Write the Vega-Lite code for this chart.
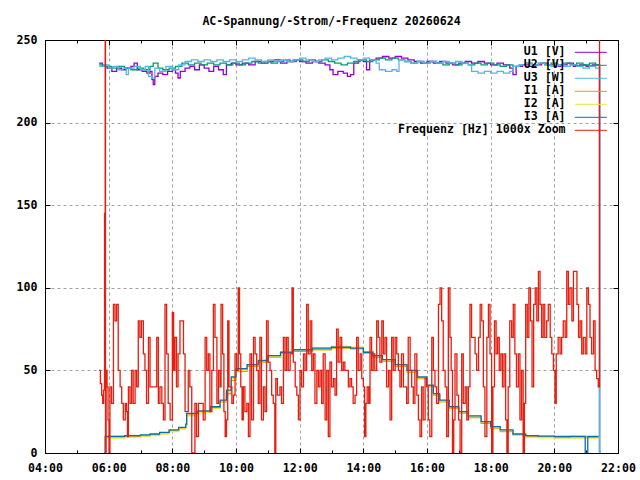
{
  "$schema": "https://vega.github.io/schema/vega-lite/v6.json",
  "width": 573,
  "height": 413,
  "autosize": "none",
  "padding": {"left": 45, "top": 40, "right": 22, "bottom": 27},
  "background": "white",
  "title": {
    "text": "AC-Spannung/-Strom/-Frequenz 20260624",
    "font": "DejaVu Sans Mono",
    "fontSize": 11.6,
    "fontWeight": "bold",
    "color": "black",
    "baseline": "alphabetic",
    "offset": -3,
    "anchor": "middle"
  },
  "config": {
    "view": {"stroke": "black", "strokeWidth": 1},
    "axis": {
      "domainColor": "black",
      "tickColor": "black",
      "labelFont": "DejaVu Sans Mono",
      "labelFontSize": 11.6,
      "labelFontWeight": "bold",
      "labelColor": "black",
      "gridColor": "#a0a0a0",
      "gridDash": [3, 3],
      "gridWidth": 1,
      "title": null
    }
  },
  "data": {
    "values": [
      {"s":"U1","t":5.70,"v":236},{"s":"U1","t":5.80,"v":234},{"s":"U1","t":5.95,"v":233},{"s":"U1","t":6.10,"v":231},{"s":"U1","t":6.25,"v":233},{"s":"U1","t":6.40,"v":232},{"s":"U1","t":6.55,"v":233},{"s":"U1","t":6.70,"v":234},{"s":"U1","t":6.80,"v":236},{"s":"U1","t":6.90,"v":232},{"s":"U1","t":7.05,"v":231},{"s":"U1","t":7.20,"v":230},{"s":"U1","t":7.30,"v":231},{"s":"U1","t":7.36,"v":226},{"s":"U1","t":7.40,"v":223},{"s":"U1","t":7.45,"v":228},{"s":"U1","t":7.55,"v":230},{"s":"U1","t":7.70,"v":229},{"s":"U1","t":7.85,"v":231},{"s":"U1","t":8.00,"v":232},{"s":"U1","t":8.10,"v":230},{"s":"U1","t":8.18,"v":227},{"s":"U1","t":8.25,"v":231},{"s":"U1","t":8.40,"v":233},{"s":"U1","t":8.55,"v":234},{"s":"U1","t":8.70,"v":232},{"s":"U1","t":8.85,"v":235},{"s":"U1","t":9.00,"v":233},{"s":"U1","t":9.15,"v":231},{"s":"U1","t":9.30,"v":234},{"s":"U1","t":9.45,"v":232},{"s":"U1","t":9.60,"v":229},{"s":"U1","t":9.70,"v":235},{"s":"U1","t":9.85,"v":236},{"s":"U1","t":10.0,"v":235},{"s":"U1","t":10.2,"v":236},{"s":"U1","t":10.4,"v":235},{"s":"U1","t":10.6,"v":237},{"s":"U1","t":10.8,"v":236},{"s":"U1","t":11.0,"v":237},{"s":"U1","t":11.2,"v":238},{"s":"U1","t":11.4,"v":236},{"s":"U1","t":11.6,"v":237},{"s":"U1","t":11.8,"v":238},{"s":"U1","t":12.0,"v":237},{"s":"U1","t":12.2,"v":236},{"s":"U1","t":12.4,"v":237},{"s":"U1","t":12.6,"v":236},{"s":"U1","t":12.8,"v":235},{"s":"U1","t":12.95,"v":232},{"s":"U1","t":13.05,"v":229},{"s":"U1","t":13.2,"v":231},{"s":"U1","t":13.37,"v":230},{"s":"U1","t":13.5,"v":228},{"s":"U1","t":13.6,"v":229},{"s":"U1","t":13.7,"v":236},{"s":"U1","t":13.85,"v":238},{"s":"U1","t":14.0,"v":237},{"s":"U1","t":14.1,"v":232},{"s":"U1","t":14.2,"v":238},{"s":"U1","t":14.4,"v":239},{"s":"U1","t":14.6,"v":240},{"s":"U1","t":14.8,"v":239},{"s":"U1","t":15.0,"v":240},{"s":"U1","t":15.2,"v":239},{"s":"U1","t":15.4,"v":238},{"s":"U1","t":15.6,"v":237},{"s":"U1","t":15.8,"v":236},{"s":"U1","t":16.0,"v":237},{"s":"U1","t":16.2,"v":236},{"s":"U1","t":16.4,"v":237},{"s":"U1","t":16.6,"v":236},{"s":"U1","t":16.8,"v":235},{"s":"U1","t":17.0,"v":236},{"s":"U1","t":17.2,"v":237},{"s":"U1","t":17.4,"v":236},{"s":"U1","t":17.6,"v":237},{"s":"U1","t":17.8,"v":236},{"s":"U1","t":18.0,"v":235},{"s":"U1","t":18.2,"v":236},{"s":"U1","t":18.4,"v":235},{"s":"U1","t":18.6,"v":233},{"s":"U1","t":18.7,"v":229},{"s":"U1","t":18.8,"v":234},{"s":"U1","t":19.0,"v":235},{"s":"U1","t":19.2,"v":234},{"s":"U1","t":19.4,"v":235},{"s":"U1","t":19.6,"v":236},{"s":"U1","t":19.8,"v":235},{"s":"U1","t":20.0,"v":234},{"s":"U1","t":20.2,"v":235},{"s":"U1","t":20.4,"v":236},{"s":"U1","t":20.6,"v":234},{"s":"U1","t":20.8,"v":235},{"s":"U1","t":21.0,"v":234},{"s":"U1","t":21.2,"v":235},{"s":"U1","t":21.42,"v":1},{"s":"U1","t":21.45,"v":1},
      {"s":"U2","t":5.70,"v":235},{"s":"U2","t":5.90,"v":234},{"s":"U2","t":6.10,"v":233},{"s":"U2","t":6.30,"v":234},{"s":"U2","t":6.50,"v":233},{"s":"U2","t":6.70,"v":232},{"s":"U2","t":6.90,"v":233},{"s":"U2","t":7.10,"v":232},{"s":"U2","t":7.30,"v":234},{"s":"U2","t":7.40,"v":236},{"s":"U2","t":7.55,"v":233},{"s":"U2","t":7.70,"v":232},{"s":"U2","t":7.90,"v":233},{"s":"U2","t":8.10,"v":234},{"s":"U2","t":8.30,"v":236},{"s":"U2","t":8.50,"v":235},{"s":"U2","t":8.70,"v":236},{"s":"U2","t":8.90,"v":235},{"s":"U2","t":9.10,"v":236},{"s":"U2","t":9.30,"v":235},{"s":"U2","t":9.50,"v":236},{"s":"U2","t":9.70,"v":235},{"s":"U2","t":9.90,"v":236},{"s":"U2","t":10.1,"v":235},{"s":"U2","t":10.3,"v":236},{"s":"U2","t":10.5,"v":237},{"s":"U2","t":10.7,"v":236},{"s":"U2","t":10.9,"v":237},{"s":"U2","t":11.1,"v":236},{"s":"U2","t":11.3,"v":237},{"s":"U2","t":11.5,"v":238},{"s":"U2","t":11.7,"v":237},{"s":"U2","t":11.9,"v":238},{"s":"U2","t":12.1,"v":237},{"s":"U2","t":12.3,"v":238},{"s":"U2","t":12.5,"v":237},{"s":"U2","t":12.7,"v":238},{"s":"U2","t":12.9,"v":237},{"s":"U2","t":13.1,"v":236},{"s":"U2","t":13.3,"v":235},{"s":"U2","t":13.5,"v":236},{"s":"U2","t":13.7,"v":237},{"s":"U2","t":13.9,"v":238},{"s":"U2","t":14.1,"v":237},{"s":"U2","t":14.3,"v":238},{"s":"U2","t":14.5,"v":239},{"s":"U2","t":14.7,"v":238},{"s":"U2","t":14.9,"v":239},{"s":"U2","t":15.1,"v":238},{"s":"U2","t":15.3,"v":237},{"s":"U2","t":15.5,"v":236},{"s":"U2","t":15.7,"v":237},{"s":"U2","t":15.9,"v":236},{"s":"U2","t":16.1,"v":237},{"s":"U2","t":16.3,"v":236},{"s":"U2","t":16.5,"v":235},{"s":"U2","t":16.7,"v":236},{"s":"U2","t":16.9,"v":235},{"s":"U2","t":17.1,"v":236},{"s":"U2","t":17.3,"v":235},{"s":"U2","t":17.5,"v":236},{"s":"U2","t":17.7,"v":235},{"s":"U2","t":17.9,"v":236},{"s":"U2","t":18.1,"v":235},{"s":"U2","t":18.3,"v":234},{"s":"U2","t":18.5,"v":235},{"s":"U2","t":18.7,"v":234},{"s":"U2","t":18.9,"v":235},{"s":"U2","t":19.1,"v":236},{"s":"U2","t":19.3,"v":235},{"s":"U2","t":19.5,"v":236},{"s":"U2","t":19.7,"v":235},{"s":"U2","t":19.9,"v":236},{"s":"U2","t":20.1,"v":235},{"s":"U2","t":20.3,"v":236},{"s":"U2","t":20.5,"v":235},{"s":"U2","t":20.7,"v":236},{"s":"U2","t":20.9,"v":235},{"s":"U2","t":21.1,"v":236},{"s":"U2","t":21.3,"v":235},{"s":"U2","t":21.42,"v":0.5},{"s":"U2","t":21.45,"v":0.5},
      {"s":"U3","t":5.70,"v":234},{"s":"U3","t":5.85,"v":235},{"s":"U3","t":6.00,"v":233},{"s":"U3","t":6.15,"v":234},{"s":"U3","t":6.30,"v":232},{"s":"U3","t":6.45,"v":233},{"s":"U3","t":6.55,"v":229},{"s":"U3","t":6.62,"v":233},{"s":"U3","t":6.80,"v":234},{"s":"U3","t":7.00,"v":232},{"s":"U3","t":7.15,"v":234},{"s":"U3","t":7.25,"v":228},{"s":"U3","t":7.35,"v":227},{"s":"U3","t":7.45,"v":233},{"s":"U3","t":7.60,"v":231},{"s":"U3","t":7.80,"v":234},{"s":"U3","t":8.00,"v":232},{"s":"U3","t":8.20,"v":235},{"s":"U3","t":8.40,"v":237},{"s":"U3","t":8.60,"v":238},{"s":"U3","t":8.80,"v":237},{"s":"U3","t":9.00,"v":238},{"s":"U3","t":9.20,"v":237},{"s":"U3","t":9.40,"v":238},{"s":"U3","t":9.60,"v":237},{"s":"U3","t":9.80,"v":238},{"s":"U3","t":10.0,"v":237},{"s":"U3","t":10.2,"v":238},{"s":"U3","t":10.4,"v":239},{"s":"U3","t":10.6,"v":238},{"s":"U3","t":10.8,"v":237},{"s":"U3","t":11.0,"v":238},{"s":"U3","t":11.2,"v":237},{"s":"U3","t":11.4,"v":238},{"s":"U3","t":11.6,"v":237},{"s":"U3","t":11.8,"v":238},{"s":"U3","t":12.0,"v":239},{"s":"U3","t":12.2,"v":238},{"s":"U3","t":12.4,"v":237},{"s":"U3","t":12.6,"v":238},{"s":"U3","t":12.8,"v":239},{"s":"U3","t":13.0,"v":238},{"s":"U3","t":13.2,"v":239},{"s":"U3","t":13.4,"v":240},{"s":"U3","t":13.6,"v":239},{"s":"U3","t":13.8,"v":238},{"s":"U3","t":14.0,"v":239},{"s":"U3","t":14.2,"v":238},{"s":"U3","t":14.4,"v":236},{"s":"U3","t":14.5,"v":232},{"s":"U3","t":14.7,"v":231},{"s":"U3","t":14.9,"v":232},{"s":"U3","t":15.05,"v":231},{"s":"U3","t":15.12,"v":238},{"s":"U3","t":15.3,"v":237},{"s":"U3","t":15.5,"v":236},{"s":"U3","t":15.7,"v":237},{"s":"U3","t":15.9,"v":236},{"s":"U3","t":16.1,"v":237},{"s":"U3","t":16.3,"v":236},{"s":"U3","t":16.5,"v":237},{"s":"U3","t":16.7,"v":236},{"s":"U3","t":16.9,"v":237},{"s":"U3","t":17.1,"v":236},{"s":"U3","t":17.3,"v":235},{"s":"U3","t":17.4,"v":231},{"s":"U3","t":17.6,"v":230},{"s":"U3","t":17.8,"v":231},{"s":"U3","t":18.0,"v":230},{"s":"U3","t":18.2,"v":231},{"s":"U3","t":18.4,"v":230},{"s":"U3","t":18.6,"v":231},{"s":"U3","t":18.7,"v":234},{"s":"U3","t":18.9,"v":235},{"s":"U3","t":19.1,"v":236},{"s":"U3","t":19.3,"v":235},{"s":"U3","t":19.5,"v":236},{"s":"U3","t":19.7,"v":235},{"s":"U3","t":19.9,"v":234},{"s":"U3","t":20.1,"v":235},{"s":"U3","t":20.3,"v":234},{"s":"U3","t":20.5,"v":235},{"s":"U3","t":20.7,"v":234},{"s":"U3","t":20.9,"v":233},{"s":"U3","t":21.1,"v":234},{"s":"U3","t":21.3,"v":233},{"s":"U3","t":21.42,"v":0},{"s":"U3","t":21.45,"v":0},
      {"s":"I1","t":5.90,"v":10},{"s":"I1","t":6.5,"v":10},{"s":"I1","t":7.0,"v":10.5},{"s":"I1","t":7.3,"v":11},{"s":"I1","t":7.6,"v":12},{"s":"I1","t":7.9,"v":13.5},{"s":"I1","t":8.2,"v":15},{"s":"I1","t":8.42,"v":17},{"s":"I1","t":8.45,"v":23},{"s":"I1","t":8.8,"v":25},{"s":"I1","t":9.2,"v":27.5},{"s":"I1","t":9.5,"v":31},{"s":"I1","t":9.7,"v":36},{"s":"I1","t":9.85,"v":44},{"s":"I1","t":10.0,"v":49.5},{"s":"I1","t":10.35,"v":52.5},{"s":"I1","t":10.7,"v":55},{"s":"I1","t":11.0,"v":58},{"s":"I1","t":11.4,"v":60.5},{"s":"I1","t":11.8,"v":61.5},{"s":"I1","t":12.4,"v":62.5},{"s":"I1","t":13.0,"v":63.5},{"s":"I1","t":13.6,"v":63},{"s":"I1","t":14.0,"v":60.5},{"s":"I1","t":14.3,"v":58},{"s":"I1","t":14.6,"v":55.5},{"s":"I1","t":15.0,"v":52.5},{"s":"I1","t":15.37,"v":49},{"s":"I1","t":15.7,"v":45},{"s":"I1","t":16.0,"v":40},{"s":"I1","t":16.2,"v":35},{"s":"I1","t":16.4,"v":31},{"s":"I1","t":16.7,"v":27},{"s":"I1","t":17.0,"v":24},{"s":"I1","t":17.3,"v":21.5},{"s":"I1","t":17.7,"v":18},{"s":"I1","t":18.0,"v":15},{"s":"I1","t":18.3,"v":13},{"s":"I1","t":18.7,"v":11},{"s":"I1","t":19.1,"v":10},{"s":"I1","t":19.5,"v":10},{"s":"I1","t":20.0,"v":9.5},{"s":"I1","t":20.5,"v":10},{"s":"I1","t":21.0,"v":9.5},{"s":"I1","t":21.39,"v":9.5},
      {"s":"I2","t":5.90,"v":9},{"s":"I2","t":6.5,"v":9.5},{"s":"I2","t":7.0,"v":10},{"s":"I2","t":7.3,"v":10.5},{"s":"I2","t":7.6,"v":11.5},{"s":"I2","t":7.9,"v":13},{"s":"I2","t":8.2,"v":14.5},{"s":"I2","t":8.42,"v":16.5},{"s":"I2","t":8.45,"v":22.5},{"s":"I2","t":8.8,"v":24.5},{"s":"I2","t":9.2,"v":27},{"s":"I2","t":9.5,"v":31.5},{"s":"I2","t":9.7,"v":37},{"s":"I2","t":9.85,"v":45},{"s":"I2","t":10.0,"v":50},{"s":"I2","t":10.35,"v":53},{"s":"I2","t":10.7,"v":55.5},{"s":"I2","t":11.0,"v":58.5},{"s":"I2","t":11.4,"v":61},{"s":"I2","t":11.8,"v":62.5},{"s":"I2","t":12.4,"v":63.5},{"s":"I2","t":13.0,"v":64.5},{"s":"I2","t":13.6,"v":64},{"s":"I2","t":14.0,"v":61.5},{"s":"I2","t":14.3,"v":59},{"s":"I2","t":14.6,"v":56},{"s":"I2","t":15.0,"v":53},{"s":"I2","t":15.37,"v":49.5},{"s":"I2","t":15.7,"v":45.5},{"s":"I2","t":16.0,"v":40.5},{"s":"I2","t":16.2,"v":35.5},{"s":"I2","t":16.4,"v":31.5},{"s":"I2","t":16.7,"v":27.5},{"s":"I2","t":17.0,"v":24.5},{"s":"I2","t":17.3,"v":22},{"s":"I2","t":17.7,"v":18.5},{"s":"I2","t":18.0,"v":15.5},{"s":"I2","t":18.3,"v":13.5},{"s":"I2","t":18.7,"v":11},{"s":"I2","t":19.1,"v":9.5},{"s":"I2","t":19.5,"v":9.2},{"s":"I2","t":20.0,"v":9},{"s":"I2","t":20.5,"v":9},{"s":"I2","t":21.0,"v":9},{"s":"I2","t":21.39,"v":8.5},
      {"s":"I3","t":5.86,"v":0},{"s":"I3","t":5.89,"v":10},{"s":"I3","t":6.5,"v":10.5},{"s":"I3","t":7.0,"v":11},{"s":"I3","t":7.3,"v":11.5},{"s":"I3","t":7.6,"v":12.5},{"s":"I3","t":7.9,"v":14},{"s":"I3","t":8.2,"v":15.5},{"s":"I3","t":8.42,"v":17.5},{"s":"I3","t":8.45,"v":24},{"s":"I3","t":8.8,"v":25.5},{"s":"I3","t":9.2,"v":28},{"s":"I3","t":9.5,"v":32},{"s":"I3","t":9.7,"v":38},{"s":"I3","t":9.85,"v":46},{"s":"I3","t":10.0,"v":51},{"s":"I3","t":10.35,"v":53.5},{"s":"I3","t":10.7,"v":56},{"s":"I3","t":11.0,"v":59},{"s":"I3","t":11.4,"v":61},{"s":"I3","t":11.8,"v":62.5},{"s":"I3","t":12.4,"v":63.5},{"s":"I3","t":13.0,"v":64},{"s":"I3","t":13.6,"v":63.5},{"s":"I3","t":14.0,"v":61},{"s":"I3","t":14.3,"v":59},{"s":"I3","t":14.6,"v":56.5},{"s":"I3","t":15.0,"v":53.5},{"s":"I3","t":15.37,"v":50},{"s":"I3","t":15.7,"v":46},{"s":"I3","t":16.0,"v":41},{"s":"I3","t":16.2,"v":36},{"s":"I3","t":16.4,"v":32},{"s":"I3","t":16.7,"v":28},{"s":"I3","t":17.0,"v":25},{"s":"I3","t":17.3,"v":22.5},{"s":"I3","t":17.7,"v":19},{"s":"I3","t":18.0,"v":16},{"s":"I3","t":18.3,"v":14},{"s":"I3","t":18.7,"v":11.5},{"s":"I3","t":19.1,"v":10.5},{"s":"I3","t":19.5,"v":10.2},{"s":"I3","t":20.0,"v":10},{"s":"I3","t":20.5,"v":10},{"s":"I3","t":20.97,"v":0},{"s":"I3","t":21.05,"v":10},{"s":"I3","t":21.39,"v":10},
      {"s":"F","t":5.70,"v":50},{"s":"F","t":5.74,"v":42},{"s":"F","t":5.78,"v":35},{"s":"F","t":5.81,"v":30},{"s":"F","t":5.84,"v":38},{"s":"F","t":5.87,"v":145},{"s":"F","t":5.89,"v":400},{"s":"F","t":5.90,"v":-50},{"s":"F","t":5.92,"v":50},{"s":"F","t":5.95,"v":40},{"s":"F","t":5.98,"v":20},{"s":"F","t":6.01,"v":0},
      {"s":"F","t":6.04,"v":40},{"s":"F","t":6.09,"v":30},{"s":"F","t":6.15,"v":90},{"s":"F","t":6.20,"v":80},{"s":"F","t":6.25,"v":90},{"s":"F","t":6.30,"v":50},{"s":"F","t":6.36,"v":40},{"s":"F","t":6.41,"v":30},{"s":"F","t":6.46,"v":20},{"s":"F","t":6.52,"v":30},{"s":"F","t":6.56,"v":25},{"s":"F","t":6.59,"v":10},{"s":"F","t":6.62,"v":40},{"s":"F","t":6.67,"v":30},{"s":"F","t":6.72,"v":50},{"s":"F","t":6.77,"v":30},{"s":"F","t":6.83,"v":50},{"s":"F","t":6.88,"v":40},{"s":"F","t":6.93,"v":80},{"s":"F","t":6.98,"v":70},{"s":"F","t":7.03,"v":80},{"s":"F","t":7.09,"v":60},{"s":"F","t":7.14,"v":50},{"s":"F","t":7.19,"v":30},{"s":"F","t":7.25,"v":70},{"s":"F","t":7.30,"v":40},{"s":"F","t":7.35,"v":40},{"s":"F","t":7.42,"v":40},{"s":"F","t":7.47,"v":40},{"s":"F","t":7.51,"v":70},{"s":"F","t":7.56,"v":30},{"s":"F","t":7.61,"v":40},{"s":"F","t":7.67,"v":30},{"s":"F","t":7.72,"v":20},{"s":"F","t":7.77,"v":90},{"s":"F","t":7.82,"v":60},{"s":"F","t":7.87,"v":30},{"s":"F","t":7.93,"v":20},{"s":"F","t":8.00,"v":85},{"s":"F","t":8.04,"v":50},{"s":"F","t":8.08,"v":70},{"s":"F","t":8.13,"v":40},{"s":"F","t":8.18,"v":60},{"s":"F","t":8.24,"v":80},{"s":"F","t":8.30,"v":80},{"s":"F","t":8.35,"v":60},{"s":"F","t":8.40,"v":25},{"s":"F","t":8.45,"v":25},{"s":"F","t":8.50,"v":50},{"s":"F","t":8.55,"v":40},{"s":"F","t":8.61,"v":0},{"s":"F","t":8.66,"v":0},{"s":"F","t":8.71,"v":30},{"s":"F","t":8.76,"v":10},{"s":"F","t":8.82,"v":30},{"s":"F","t":8.87,"v":30},{"s":"F","t":8.92,"v":30},{"s":"F","t":8.97,"v":20},{"s":"F","t":9.03,"v":70},{"s":"F","t":9.08,"v":50},{"s":"F","t":9.13,"v":60},{"s":"F","t":9.18,"v":25},{"s":"F","t":9.24,"v":50},{"s":"F","t":9.29,"v":90},{"s":"F","t":9.34,"v":70},{"s":"F","t":9.40,"v":30},{"s":"F","t":9.45,"v":50},{"s":"F","t":9.50,"v":40},{"s":"F","t":9.53,"v":90},{"s":"F","t":9.58,"v":60},{"s":"F","t":9.62,"v":25},
      {"s":"F","t":9.66,"v":10},{"s":"F","t":9.70,"v":20},{"s":"F","t":9.74,"v":80},{"s":"F","t":9.78,"v":40},{"s":"F","t":9.82,"v":40},{"s":"F","t":9.87,"v":30},{"s":"F","t":9.92,"v":35},{"s":"F","t":9.97,"v":60},{"s":"F","t":10.02,"v":50},{"s":"F","t":10.07,"v":100},{"s":"F","t":10.11,"v":60},{"s":"F","t":10.15,"v":40},{"s":"F","t":10.19,"v":20},{"s":"F","t":10.23,"v":40},{"s":"F","t":10.28,"v":25},{"s":"F","t":10.34,"v":30},{"s":"F","t":10.39,"v":10},{"s":"F","t":10.44,"v":60},{"s":"F","t":10.49,"v":20},{"s":"F","t":10.55,"v":70},{"s":"F","t":10.60,"v":60},{"s":"F","t":10.65,"v":50},{"s":"F","t":10.70,"v":30},{"s":"F","t":10.75,"v":70},{"s":"F","t":10.80,"v":20},{"s":"F","t":10.86,"v":40},{"s":"F","t":10.91,"v":25},{"s":"F","t":10.96,"v":80},{"s":"F","t":11.01,"v":55},{"s":"F","t":11.07,"v":50},{"s":"F","t":11.12,"v":35},{"s":"F","t":11.17,"v":30},{"s":"F","t":11.22,"v":0},{"s":"F","t":11.25,"v":45},{"s":"F","t":11.30,"v":35},{"s":"F","t":11.38,"v":40},{"s":"F","t":11.43,"v":30},{"s":"F","t":11.49,"v":70},{"s":"F","t":11.54,"v":50},{"s":"F","t":11.59,"v":70},{"s":"F","t":11.64,"v":50},{"s":"F","t":11.70,"v":60},{"s":"F","t":11.76,"v":100},{"s":"F","t":11.80,"v":55},{"s":"F","t":11.86,"v":40},{"s":"F","t":11.91,"v":35},{"s":"F","t":11.96,"v":20},{"s":"F","t":12.01,"v":50},{"s":"F","t":12.06,"v":40},{"s":"F","t":12.12,"v":60},{"s":"F","t":12.17,"v":50},{"s":"F","t":12.22,"v":90},{"s":"F","t":12.27,"v":60},{"s":"F","t":12.33,"v":80},{"s":"F","t":12.38,"v":50},{"s":"F","t":12.43,"v":60},{"s":"F","t":12.48,"v":30},{"s":"F","t":12.54,"v":50},{"s":"F","t":12.59,"v":40},{"s":"F","t":12.64,"v":50},{"s":"F","t":12.69,"v":30},{"s":"F","t":12.74,"v":60},{"s":"F","t":12.80,"v":20},{"s":"F","t":12.85,"v":50},{"s":"F","t":12.90,"v":10},{"s":"F","t":12.95,"v":55},{"s":"F","t":13.00,"v":40},{"s":"F","t":13.06,"v":45},{"s":"F","t":13.11,"v":35},{"s":"F","t":13.16,"v":75},{"s":"F","t":13.21,"v":55},{"s":"F","t":13.27,"v":70},{"s":"F","t":13.32,"v":50},{"s":"F","t":13.37,"v":55},{"s":"F","t":13.42,"v":50},{"s":"F","t":13.48,"v":50},
      {"s":"F","t":13.53,"v":40},{"s":"F","t":13.58,"v":45},{"s":"F","t":13.63,"v":40},{"s":"F","t":13.68,"v":30},{"s":"F","t":13.74,"v":35},{"s":"F","t":13.79,"v":70},{"s":"F","t":13.84,"v":50},{"s":"F","t":13.90,"v":60},{"s":"F","t":13.95,"v":45},{"s":"F","t":14.00,"v":40},{"s":"F","t":14.04,"v":10},{"s":"F","t":14.08,"v":30},{"s":"F","t":14.12,"v":40},{"s":"F","t":14.17,"v":30},{"s":"F","t":14.21,"v":70},{"s":"F","t":14.26,"v":50},{"s":"F","t":14.31,"v":60},{"s":"F","t":14.36,"v":50},{"s":"F","t":14.42,"v":80},{"s":"F","t":14.47,"v":70},{"s":"F","t":14.52,"v":55},{"s":"F","t":14.58,"v":80},{"s":"F","t":14.63,"v":60},{"s":"F","t":14.68,"v":70},{"s":"F","t":14.73,"v":40},{"s":"F","t":14.79,"v":50},{"s":"F","t":14.84,"v":20},{"s":"F","t":14.89,"v":70},{"s":"F","t":14.94,"v":50},{"s":"F","t":15.00,"v":70},{"s":"F","t":15.05,"v":60},{"s":"F","t":15.10,"v":50},{"s":"F","t":15.15,"v":40},{"s":"F","t":15.20,"v":60},{"s":"F","t":15.26,"v":40},{"s":"F","t":15.31,"v":40},{"s":"F","t":15.36,"v":30},{"s":"F","t":15.41,"v":70},{"s":"F","t":15.47,"v":50},{"s":"F","t":15.52,"v":40},{"s":"F","t":15.57,"v":30},{"s":"F","t":15.62,"v":60},{"s":"F","t":15.68,"v":35},{"s":"F","t":15.73,"v":20},{"s":"F","t":15.78,"v":10},{"s":"F","t":15.83,"v":40},{"s":"F","t":15.88,"v":20},{"s":"F","t":15.94,"v":45},{"s":"F","t":15.99,"v":40},{"s":"F","t":16.04,"v":20},{"s":"F","t":16.09,"v":10},{"s":"F","t":16.15,"v":70},{"s":"F","t":16.20,"v":50},{"s":"F","t":16.25,"v":40},{"s":"F","t":16.30,"v":30},{"s":"F","t":16.36,"v":90},{"s":"F","t":16.41,"v":100},{"s":"F","t":16.46,"v":80},{"s":"F","t":16.51,"v":50},{"s":"F","t":16.57,"v":40},{"s":"F","t":16.62,"v":10},{"s":"F","t":16.67,"v":100},{"s":"F","t":16.72,"v":70},{"s":"F","t":16.76,"v":50},{"s":"F","t":16.80,"v":0},{"s":"F","t":16.84,"v":20},{"s":"F","t":16.88,"v":60},{"s":"F","t":16.94,"v":35},{"s":"F","t":16.99,"v":20},{"s":"F","t":17.04,"v":0},{"s":"F","t":17.09,"v":60},{"s":"F","t":17.14,"v":30},{"s":"F","t":17.20,"v":40},{"s":"F","t":17.25,"v":20},{"s":"F","t":17.30,"v":40},{"s":"F","t":17.35,"v":90},{"s":"F","t":17.40,"v":70},{"s":"F","t":17.46,"v":70},
      {"s":"F","t":17.51,"v":60},{"s":"F","t":17.56,"v":50},{"s":"F","t":17.62,"v":70},{"s":"F","t":17.67,"v":90},{"s":"F","t":17.72,"v":80},{"s":"F","t":17.77,"v":40},{"s":"F","t":17.82,"v":10},{"s":"F","t":17.88,"v":70},{"s":"F","t":17.93,"v":90},{"s":"F","t":17.98,"v":60},{"s":"F","t":18.03,"v":0},{"s":"F","t":18.07,"v":40},{"s":"F","t":18.12,"v":80},{"s":"F","t":18.17,"v":60},{"s":"F","t":18.22,"v":70},{"s":"F","t":18.27,"v":50},{"s":"F","t":18.32,"v":60},{"s":"F","t":18.37,"v":40},{"s":"F","t":18.42,"v":60},{"s":"F","t":18.47,"v":20},{"s":"F","t":18.51,"v":0},{"s":"F","t":18.55,"v":40},{"s":"F","t":18.60,"v":80},{"s":"F","t":18.66,"v":70},{"s":"F","t":18.71,"v":90},{"s":"F","t":18.76,"v":60},{"s":"F","t":18.81,"v":40},{"s":"F","t":18.87,"v":60},{"s":"F","t":18.92,"v":20},{"s":"F","t":18.97,"v":50},{"s":"F","t":19.02,"v":0},{"s":"F","t":19.06,"v":30},{"s":"F","t":19.10,"v":90},{"s":"F","t":19.15,"v":70},{"s":"F","t":19.20,"v":100},{"s":"F","t":19.25,"v":80},{"s":"F","t":19.30,"v":40},{"s":"F","t":19.35,"v":90},{"s":"F","t":19.40,"v":100},{"s":"F","t":19.45,"v":80},{"s":"F","t":19.50,"v":110},{"s":"F","t":19.55,"v":90},{"s":"F","t":19.60,"v":70},{"s":"F","t":19.65,"v":90},{"s":"F","t":19.70,"v":70},{"s":"F","t":19.76,"v":80},{"s":"F","t":19.81,"v":90},{"s":"F","t":19.87,"v":70},{"s":"F","t":19.92,"v":60},{"s":"F","t":19.97,"v":50},{"s":"F","t":20.02,"v":30},{"s":"F","t":20.06,"v":60},{"s":"F","t":20.12,"v":70},{"s":"F","t":20.18,"v":60},{"s":"F","t":20.23,"v":70},{"s":"F","t":20.28,"v":80},{"s":"F","t":20.34,"v":70},{"s":"F","t":20.39,"v":110},{"s":"F","t":20.44,"v":90},{"s":"F","t":20.49,"v":100},{"s":"F","t":20.55,"v":80},{"s":"F","t":20.60,"v":110},{"s":"F","t":20.66,"v":110},{"s":"F","t":20.71,"v":90},{"s":"F","t":20.76,"v":70},{"s":"F","t":20.81,"v":80},{"s":"F","t":20.86,"v":60},{"s":"F","t":20.91,"v":70},{"s":"F","t":20.97,"v":60},{"s":"F","t":21.02,"v":100},{"s":"F","t":21.07,"v":90},{"s":"F","t":21.12,"v":70},{"s":"F","t":21.17,"v":60},{"s":"F","t":21.23,"v":80},{"s":"F","t":21.28,"v":50},{"s":"F","t":21.33,"v":45},{"s":"F","t":21.38,"v":40},{"s":"F","t":21.42,"v":400}
    ]
  },
  "layer": [
    {
      "mark": {"type": "line", "interpolate": "step-after", "strokeWidth": 1.3, "clip": true},
      "encoding": {
        "x": {
          "field": "t",
          "type": "quantitative",
          "scale": {"domain": [4, 22], "nice": false, "zero": false},
          "axis": {
            "orient": "bottom",
            "values": [4,5,6,7,8,9,10,11,12,13,14,15,16,17,18,19,20,21,22],
            "labelExpr": "datum.value % 2 == 0 ? (datum.value < 10 ? '0' : '') + datum.value + ':00' : ''",
            "labelFlush": false,
            "labelBaseline": "top",
            "tickSize": {"condition": {"test": "datum.value % 2 == 1", "value": -3}, "value": -5},
            "labelPadding": 14,
            "grid": true,
            "gridOpacity": {"condition": {"test": "datum.value % 2 == 1 || datum.value == 4 || datum.value == 22", "value": 0}, "value": 1}
          }
        },
        "y": {
          "field": "v",
          "type": "quantitative",
          "scale": {"domain": [0, 250], "nice": false},
          "axis": {
            "orient": "left",
            "values": [0, 50, 100, 150, 200, 250],
            "tickSize": -5,
            "labelPadding": 13,
            "grid": true,
            "gridOpacity": {"condition": {"test": "datum.value == 0 || datum.value == 250", "value": 0}, "value": 1}
          }
        },
        "color": {
          "field": "s",
          "type": "nominal",
          "scale": {
            "domain": ["U1", "U2", "U3", "I1", "I2", "I3", "F"],
            "range": ["#9400d3", "#009e73", "#56b4e9", "#e69f00", "#f0e442", "#0072b2", "#e51e10"]
          },
          "legend": {
            "orient": "none",
            "legendX": 540,
            "legendY": 6.5,
            "title": null,
            "padding": 0,
            "symbolType": "M-4,0H4",
            "symbolSize": 64,
            "symbolStrokeWidth": 1,
            "labelAlign": "right",
            "labelOffset": -31,
            "labelLimit": 0,
            "rowPadding": 0,
            "labelFont": "DejaVu Sans Mono",
            "labelFontSize": 11.6,
            "labelFontWeight": "bold",
            "labelColor": "black",
            "labelExpr": "datum.label == 'U1' ? 'U1 [V]' : datum.label == 'U2' ? 'U2 [V]' : datum.label == 'U3' ? 'U3 [W]' : datum.label == 'I1' ? 'I1 [A]' : datum.label == 'I2' ? 'I2 [A]' : datum.label == 'I3' ? 'I3 [A]' : 'Frequenz [Hz] 1000x Zoom'"
          }
        }
      }
    },
    {
      "data": {"values": [{"t": 4, "v": 0}, {"t": 22, "v": 250}]},
      "mark": {"type": "point", "opacity": 0},
      "encoding": {
        "x": {
          "field": "t",
          "type": "quantitative",
          "axis": {
            "orient": "top",
            "values": [4,5,6,7,8,9,10,11,12,13,14,15,16,17,18,19,20,21,22],
            "labels": false,
            "grid": false,
            "tickSize": {"condition": {"test": "datum.value % 2 == 1", "value": -3}, "value": -5}
          }
        },
        "y": {
          "field": "v",
          "type": "quantitative",
          "axis": {
            "orient": "right",
            "values": [0, 50, 100, 150, 200, 250],
            "labels": false,
            "grid": false,
            "tickSize": -5
          }
        }
      }
    }
  ],
  "resolve": {"axis": {"x": "independent", "y": "independent"}}
}
